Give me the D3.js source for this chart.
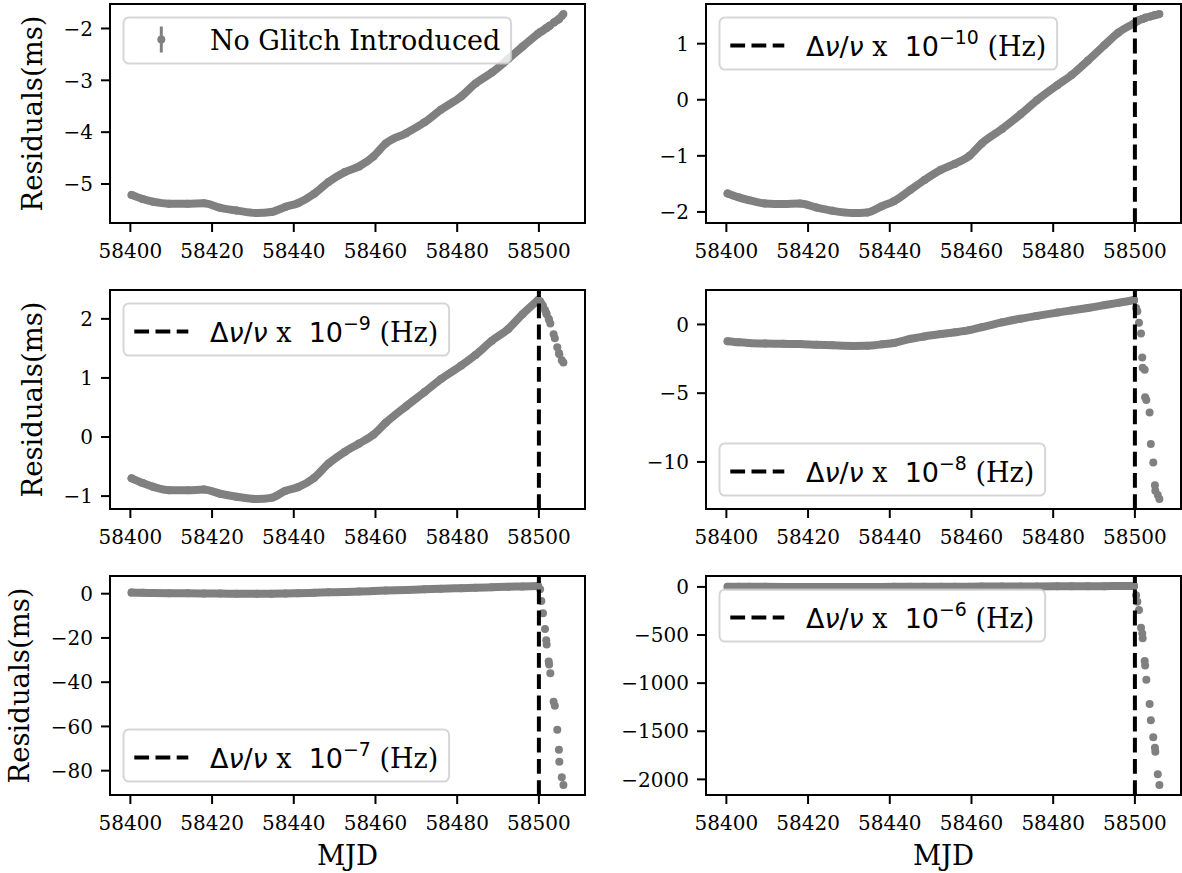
<!DOCTYPE html>
<html><head><meta charset="utf-8">
<script src="https://cdn.jsdelivr.net/npm/d3@7"></script>
<style>
body{margin:0;background:#fff;}
svg{display:block;}
</style></head><body>
<svg id="chart" width="1182" height="873"></svg>
<script>
// ---------------- data ----------------
const xTicks = [58400, 58420, 58440, 58460, 58480, 58500];
const glitchMjd = 58500;
const preMjd = [58400.3, 58403, 58405.5, 58409.5, 58414, 58418, 58422, 58426, 58431, 58434.5, 58438, 58441, 58445, 58448.5, 58452.5, 58456, 58459.5, 58462.5, 58467.5, 58472, 58476, 58481, 58484.5, 58488.5, 58492.5, 58496, 58499.8];
const postMjd = [58500.3, 58500.6, 58501.0, 58501.5, 58501.8, 58501.9, 58502.4, 58502.5, 58502.8, 58503.6, 58503.9, 58504.5, 58504.9, 58505.0, 58505.6, 58506.0];

const pre1 = [-5.21, -5.29, -5.34, -5.38, -5.38, -5.37, -5.46, -5.51, -5.56, -5.54, -5.44, -5.37, -5.19, -4.96, -4.77, -4.66, -4.47, -4.22, -4.02, -3.81, -3.57, -3.31, -3.06, -2.85, -2.59, -2.35, -2.10];
const post1 = [-2.07, -2.06, -2.04, -2.01, -1.99, -1.99, -1.96, -1.95, -1.94, -1.89, -1.87, -1.84, -1.82, -1.81, -1.76, -1.72];

const pre2 = [-1.67, -1.74, -1.79, -1.85, -1.86, -1.85, -1.92, -1.98, -2.02, -2.01, -1.90, -1.81, -1.61, -1.43, -1.25, -1.14, -1.00, -0.78, -0.52, -0.26, -0.01, 0.26, 0.44, 0.70, 0.97, 1.20, 1.36];
const post2 = [1.39, 1.40, 1.42, 1.43, 1.44, 1.44, 1.46, 1.46, 1.47, 1.48, 1.49, 1.50, 1.51, 1.51, 1.52, 1.53];

const pre3 = [-0.70, -0.78, -0.84, -0.90, -0.90, -0.89, -0.96, -1.01, -1.05, -1.03, -0.91, -0.85, -0.69, -0.45, -0.25, -0.11, 0.04, 0.24, 0.52, 0.76, 0.98, 1.21, 1.39, 1.63, 1.83, 2.08, 2.32];
const post3 = [2.30, 2.26, 2.22, 2.15, 2.10, 2.08, 2.00, 1.98, 1.92, 1.74, 1.67, 1.52, 1.42, 1.40, 1.30, 1.26];

const pre4 = [-1.22, -1.30, -1.35, -1.39, -1.41, -1.43, -1.48, -1.52, -1.56, -1.55, -1.45, -1.35, -1.05, -0.87, -0.70, -0.57, -0.41, -0.20, 0.15, 0.42, 0.62, 0.86, 1.02, 1.20, 1.40, 1.57, 1.78];
const post4 = [1.2, 0.95, 0.12, -0.66, -2.4, -3.15, -3.3, -5.3, -5.5, -6.4, -8.7, -10.05, -11.7, -12.1, -12.4, -12.7];

const pre5 = [0.5, 0.4, 0.3, 0.2, 0.15, 0.1, 0.05, 0.0, -0.05, 0.0, 0.1, 0.2, 0.4, 0.6, 0.8, 1.0, 1.2, 1.4, 1.7, 2.0, 2.2, 2.5, 2.7, 2.9, 3.1, 3.3, 3.5];
const post5 = [2.0, -3.3, -8.8, -16, -21, -23, -30.6, -32, -36, -48.8, -50.6, -61.5, -70.6, -76, -83, -86.5];

const pre6 = [2, 1.5, 1, 0.5, 0.3, 0.2, 0.1, 0, -0.2, -0.1, 0.2, 0.5, 1, 1.5, 2, 2.5, 3, 3.5, 4, 4.5, 5, 6, 6.5, 7, 8, 9, 10];
const post6 = [-86, -155, -241, -424, -483, -534, -769, -817, -966, -1217, -1386, -1562, -1672, -1714, -1948, -2059];

const yTicks1 = [-5, -4, -3, -2];
const yTicks2 = [-2, -1, 0, 1];
const yTicks3 = [-1, 0, 1, 2];
const yTicks4 = [-10, -5, 0];
const yTicks5 = [-80, -60, -40, -20, 0];
const yTicks6 = [-2000, -1500, -1000, -500, 0];

const legendLabel1 = "No Glitch Introduced";
const legendExponents = ["−10", "−9", "−8", "−7", "−6"];
const xLabel = "MJD";
const yLabel = "Residuals(ms)";

// ---------------- layout ----------------
const svg = d3.select("#chart");
const SERIF = "'DejaVu Serif', serif";
const SANS = "'DejaVu Sans', sans-serif";
const colX = [[110, 585], [706, 1181]];
const rowY = [[4, 223], [290, 509], [576, 795]];
const TICK_FS = 20, LABEL_FS = 27.5, LEG_FS = 27;
const GREY = "#808080";

const panels = [
  {pre: pre1, post: post1, yTicks: yTicks1, exp: null, loc: "upper", glitch: false},
  {pre: pre2, post: post2, yTicks: yTicks2, exp: legendExponents[0], loc: "upper", glitch: true},
  {pre: pre3, post: post3, yTicks: yTicks3, exp: legendExponents[1], loc: "upper", glitch: true},
  {pre: pre4, post: post4, yTicks: yTicks4, exp: legendExponents[2], loc: "lower", glitch: true},
  {pre: pre5, post: post5, yTicks: yTicks5, exp: legendExponents[3], loc: "lower", glitch: true},
  {pre: pre6, post: post6, yTicks: yTicks6, exp: legendExponents[4], loc: "upper", glitch: true},
];

const allMjd = preMjd.concat(postMjd);
const xmin = d3.min(allMjd), xmax = d3.max(allMjd);
const xpad = (xmax - xmin) * 0.05;
const xDomain = [xmin - xpad, xmax + xpad];

const fmt = d => String(d).replace("-", "\u2212");

panels.forEach((p, i) => {
  const row = Math.floor(i / 2), col = i % 2;
  const [x0, x1] = colX[col];
  const [y0, y1] = rowY[row];
  const vals = p.pre.concat(p.post);
  const vmin = d3.min(vals), vmax = d3.max(vals);
  const vpad = (vmax - vmin) * 0.05;
  const x = d3.scaleLinear().domain(xDomain).range([x0, x1]);
  const y = d3.scaleLinear().domain([vmin - vpad, vmax + vpad]).range([y1, y0]);

  const clipId = "clip" + i;
  svg.append("clipPath").attr("id", clipId).append("rect")
    .attr("x", x0).attr("y", y0).attr("width", x1 - x0).attr("height", y1 - y0);
  const g = svg.append("g").attr("clip-path", `url(#${clipId})`);

  const preData = preMjd.map((m, k) => [m, p.pre[k]]);
  const postData = postMjd.map((m, k) => [m, p.post[k]]);

  g.append("path")
    .attr("d", d3.line().x(d => x(d[0])).y(d => y(d[1])).curve(d3.curveMonotoneX)(preData))
    .attr("fill", "none").attr("stroke", GREY).attr("stroke-width", 8)
    .attr("stroke-linecap", "round").attr("stroke-linejoin", "round");
  g.selectAll("circle.pre").data(preData).join("circle").attr("class", "pre")
    .attr("cx", d => x(d[0])).attr("cy", d => y(d[1])).attr("r", 4).attr("fill", GREY);
  g.selectAll("circle.post").data(postData).join("circle").attr("class", "post")
    .attr("cx", d => x(d[0])).attr("cy", d => y(d[1])).attr("r", 4).attr("fill", GREY);

  if (p.glitch) {
    g.append("line")
      .attr("x1", x(glitchMjd)).attr("x2", x(glitchMjd))
      .attr("y1", y1).attr("y2", y0)
      .attr("stroke", "#000").attr("stroke-width", 4)
      .attr("stroke-dasharray", "14.8,6.4");
  }

  // spines
  svg.append("rect").attr("x", x0).attr("y", y0).attr("width", x1 - x0).attr("height", y1 - y0)
    .attr("fill", "none").attr("stroke", "#000").attr("stroke-width", 2);

  // x ticks
  const xt = svg.append("g");
  xTicks.forEach(t => {
    const px = x(t);
    xt.append("line").attr("x1", px).attr("x2", px).attr("y1", y1).attr("y2", y1 + 9)
      .attr("stroke", "#000").attr("stroke-width", 2);
    xt.append("text").attr("x", px).attr("y", y1 + 35).attr("text-anchor", "middle")
      .attr("font-family", SERIF).attr("font-size", TICK_FS).text(fmt(t));
  });
  // y ticks
  const yt = svg.append("g");
  p.yTicks.forEach(t => {
    const py = y(t);
    yt.append("line").attr("x1", x0 - 9).attr("x2", x0).attr("y1", py).attr("y2", py)
      .attr("stroke", "#000").attr("stroke-width", 2);
    yt.append("text").attr("x", x0 - 17).attr("y", py + 0.36 * TICK_FS).attr("text-anchor", "end")
      .attr("font-family", SERIF).attr("font-size", TICK_FS).text(fmt(t));
  });

  if (col === 0) {
    const bb = yt.node().getBBox();
    const bx = bb.x - 16 - 0.2 * LABEL_FS;
    const cy = (y0 + y1) / 2;
    svg.append("text").attr("transform", `translate(${bx},${cy}) rotate(-90)`)
      .attr("text-anchor", "middle").attr("font-family", SERIF).attr("font-size", LABEL_FS)
      .text(yLabel);
  }
  if (row === 2) {
    svg.append("text").attr("x", (x0 + x1) / 2).attr("y", y1 + 70)
      .attr("text-anchor", "middle").attr("font-family", SERIF).attr("font-size", LABEL_FS)
      .text(xLabel);
  }

  // legend
  const fs = LEG_FS, pad = 0.4 * fs, hl = 2 * fs, htp = 0.8 * fs, bap = 0.5 * fs;
  const boxH = p.exp ? 52 : 46;
  const lx = x0 + bap;
  const ly = p.loc === "upper" ? y0 + bap : y1 - bap - boxH;
  const lg = svg.append("g");
  const rect = lg.append("rect");
  const baseY = ly + boxH - 14;
  const tx = lx + pad + hl + htp;
  const text = lg.append("text").attr("x", tx).attr("y", baseY)
    .attr("font-size", fs).attr("font-family", SERIF).style("white-space", "pre");
  if (!p.exp) {
    text.text(legendLabel1);
  } else {
    text.append("tspan").attr("font-family", SANS).text("\u0394");
    text.append("tspan").attr("font-family", SANS).attr("font-style", "italic").text("\u03bd");
    text.append("tspan").attr("font-family", SANS).text("/");
    text.append("tspan").attr("font-family", SANS).attr("font-style", "italic").text("\u03bd");
    text.append("tspan").attr("font-family", SERIF).text(" x  ");
    text.append("tspan").attr("font-family", SANS).text("10");
    text.append("tspan").attr("font-family", SANS).attr("font-size", fs * 0.7).attr("dy", -0.42 * fs).text(p.exp);
    text.append("tspan").attr("font-family", SERIF).attr("dy", 0.42 * fs).text(" (Hz)");
  }
  const tb = text.node().getBBox();
  rect.attr("x", lx).attr("y", ly).attr("width", tb.x + tb.width + pad - lx).attr("height", boxH)
    .attr("rx", 0.2 * fs).attr("ry", 0.2 * fs)
    .attr("fill", "#fff").attr("fill-opacity", 0.8)
    .attr("stroke", "#cccccc").attr("stroke-opacity", 0.8).attr("stroke-width", 2);
  const hy = baseY - 10;
  const hx = lx + pad;
  if (!p.exp) {
    lg.append("line").attr("x1", hx + hl / 2).attr("x2", hx + hl / 2).attr("y1", hy - 13).attr("y2", hy + 13)
      .attr("stroke", GREY).attr("stroke-width", 3);
    lg.append("circle").attr("cx", hx + hl / 2).attr("cy", hy).attr("r", 4).attr("fill", GREY);
  } else {
    lg.append("line").attr("x1", hx).attr("x2", hx + hl).attr("y1", hy).attr("y2", hy)
      .attr("stroke", "#000").attr("stroke-width", 4).attr("stroke-dasharray", "14.8,6.4");
  }
});
</script>
</body></html>
